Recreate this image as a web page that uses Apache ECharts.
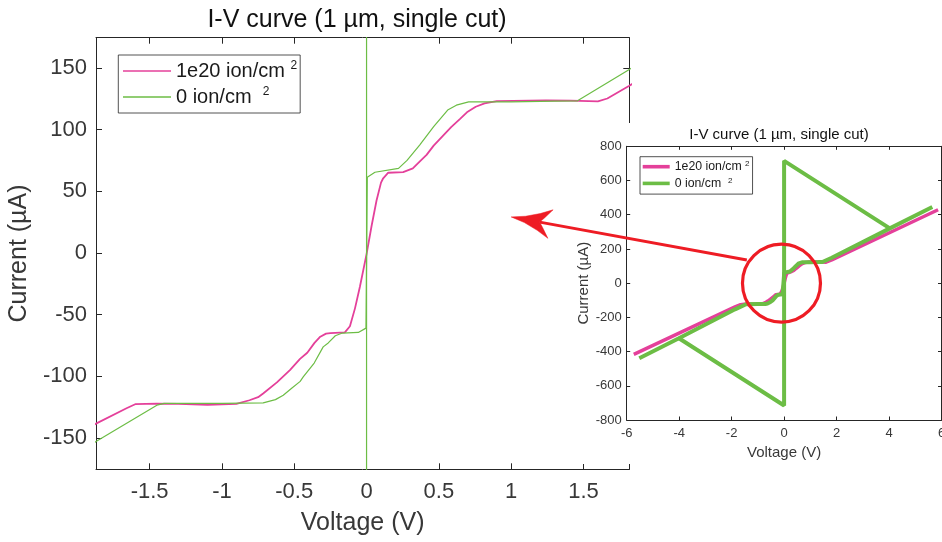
<!DOCTYPE html>
<html>
<head>
<meta charset="utf-8">
<script src="https://cdn.jsdelivr.net/npm/echarts@6/dist/echarts.min.js"></script>
<style>html,body{margin:0;padding:0;background:#fff}#c{width:942px;height:542px}</style>
</head>
<body>
<div id="c"></div>
<script>
// ---------- data ----------
const titleText = 'I-V curve (1 µm, single cut)';
const xName = 'Voltage (V)';
const yName = 'Current (µA)';
const seriesNames = ['1e20 ion/cm', '0 ion/cm'];
const legendSupGap = [' ', '  '];

const mainXTicks = [-1.5, -1, -0.5, 0, 0.5, 1, 1.5];
const mainYTicks = [-150, -100, -50, 0, 50, 100, 150];
const insetXTicks = [-6, -4, -2, 0, 2, 4, 6];
const insetYTicks = [-800, -600, -400, -200, 0, 200, 400, 600, 800];

const voltage1e20 = [-5.73, -1.871, -1.66, -1.6, -1.45, -1.3, -1.1, -0.9, -0.81, -0.75, -0.715, -0.62, -0.53, -0.46, -0.41, -0.36, -0.32, -0.28, -0.25, -0.15, -0.115, -0.08, -0.046, 0, 0.035, 0.069, 0.1, 0.115, 0.15, 0.253, 0.32, 0.367, 0.415, 0.464, 0.585, 0.645, 0.694, 0.755, 0.816, 0.9, 1.24, 1.41, 1.6, 1.665, 1.817, 5.87];
const current1e20 = [-416, -138.5, -126, -122.7, -122.2, -122.5, -123.3, -122.5, -119.5, -117, -114, -105, -95, -86, -81, -73, -68, -65.5, -65, -64.5, -59.5, -45, -27.5, -1, 22, 42.5, 57, 60.5, 65, 65.5, 68.5, 74, 79.5, 87, 102, 108.5, 114, 118.5, 121.2, 123, 123.6, 123.5, 122.8, 125.2, 135.5, 429];

const voltage0 = [-5.52, -4.01, -1.871, -1.45, -1.4, -1.0, -0.715, -0.63, -0.576, -0.52, -0.459, -0.438, -0.362, -0.3, -0.265, -0.216, -0.167, -0.057, -0.004, 0.005, 0.058, 0.221, 0.28, 0.367, 0.464, 0.561, 0.621, 0.706, 1.0, 1.3, 1.459, 1.817, 4.03, 5.65];
const current0 = [-439, -322, -153, -123.5, -122, -122, -121.6, -119, -115.4, -110, -104.2, -100.5, -89.3, -76.2, -73, -67.2, -65, -64.5, -61, 61.4, 65.4, 68.5, 75, 87.4, 102.3, 115.8, 119.8, 122.5, 122.5, 123, 123.3, 148.7, 320, 445];

const voltage0Retrace = [-4.01, 0, 0, 4.03];
const current0Retrace = [-322, -715, 715, 320];

// annotation anchors (in data units of the respective plot)
const circleCenterInset = [-0.1, 0];
const arrowTailInset = [-1.42, 135];
const arrowTipMain = [1.0, 29.2];

// ---------- style ----------
const FONT = '"Liberation Sans", Arial, Helvetica, sans-serif';
const AX = '#262626';
const PINK = '#e4409a';
const GREEN = '#6cbd45';
const RED = '#ee1c24';

const zip = (xs, ys) => xs.map((x, i) => [x, ys[i]]);

function ax(grid, pos, min, max, ticks, opts) {
  return Object.assign({
    type: 'value', gridIndex: grid, position: pos, min: min, max: max,
    axisLine: { show: true, onZero: false, lineStyle: { color: AX, width: 1 } },
    axisTick: { show: true, inside: true, length: opts.tick, customValues: ticks, lineStyle: { color: AX, width: 1 } },
    axisLabel: { show: opts.label, customValues: ticks, fontSize: opts.fs, color: '#383838', fontFamily: FONT, margin: opts.margin,
      showMinLabel: true, showMaxLabel: true, hideOverlap: false },
    splitLine: { show: false }, z: opts.z
  }, opts.extra || {});
}

const chart = echarts.init(document.getElementById('c'));

const option = {
  animation: false,
  backgroundColor: '#fff',
  title: [
    { text: titleText, left: 357, top: 8, padding: 0, textAlign: 'center',
      textStyle: { fontSize: 25, fontWeight: 'normal', color: '#111', fontFamily: FONT }, z: 6 },
    { text: titleText, left: 779, top: 127, padding: 0, textAlign: 'center',
      textStyle: { fontSize: 15, fontWeight: 'normal', color: '#111', fontFamily: FONT }, z: 60 }
  ],
  grid: [
    { left: 96, top: 37.7, width: 533.3, height: 431.6, outerBoundsMode: 'none', containLabel: false },
    { left: 626.7, top: 146.3, width: 314.8, height: 273.7, outerBoundsMode: 'none', containLabel: false }
  ],
  legend: [
    { data: seriesNames, orient: 'vertical', left: 118.3, top: 55, icon: 'rect',
      itemWidth: 48, itemHeight: 1.5, itemGap: 4, padding: [5, 3, 5, 4.7],
      borderColor: AX, borderWidth: 0.8, backgroundColor: '#fff', selectedMode: false,
      formatter: n => n + legendSupGap[seriesNames.indexOf(n)] + '{sup|2}',
      textStyle: { fontSize: 20, lineHeight: 22, color: '#1a1a1a', fontFamily: FONT,
        rich: { sup: { fontSize: 12, lineHeight: 16, verticalAlign: 'top', color: '#1a1a1a', fontFamily: FONT } } },
      z: 4 },
    { data: seriesNames, orient: 'vertical', left: 640, top: 156.7, icon: 'rect',
      itemWidth: 27, itemHeight: 3.6, itemGap: 2.7, padding: [3, 3, 3.7, 2.7],
      borderColor: AX, borderWidth: 0.8, backgroundColor: '#fff', selectedMode: false,
      formatter: n => n + legendSupGap[seriesNames.indexOf(n)] + '{sup|2}',
      textStyle: { fontSize: 12.3, lineHeight: 14, color: '#1a1a1a', fontFamily: FONT,
        rich: { sup: { fontSize: 8, lineHeight: 11, verticalAlign: 'top', color: '#1a1a1a', fontFamily: FONT } } },
      z: 62 }
  ],
  xAxis: [
    ax(0, 'bottom', -1.871, 1.817, mainXTicks, { tick: 6, label: true, fs: 22, margin: 12, z: 0,
      extra: { name: xName, nameLocation: 'middle', nameGap: 41,
        nameTextStyle: { fontSize: 25, color: '#383838', fontFamily: FONT } } }),
    ax(0, 'top', -1.871, 1.817, mainXTicks, { tick: 6, label: false, fs: 22, margin: 8, z: 0 }),
    ax(1, 'bottom', -6, 6, insetXTicks, { tick: 3.5, label: true, fs: 13, margin: 7, z: 60,
      extra: { name: xName, nameLocation: 'middle', nameGap: 25,
        nameTextStyle: { fontSize: 15, color: '#383838', fontFamily: FONT } } }),
    ax(1, 'top', -6, 6, insetXTicks, { tick: 3.5, label: false, fs: 13, margin: 7, z: 60 })
  ],
  yAxis: [
    ax(0, 'left', -175.5, 174.5, mainYTicks, { tick: 6, label: true, fs: 22, margin: 9, z: 0,
      extra: { name: yName, nameLocation: 'middle', nameGap: 63,
        nameTextStyle: { fontSize: 25, color: '#383838', fontFamily: FONT } } }),
    ax(0, 'right', -175.5, 174.5, mainYTicks, { tick: 6, label: false, fs: 22, margin: 8, z: 0 }),
    ax(1, 'left', -800, 800, insetYTicks, { tick: 3.5, label: true, fs: 13, margin: 5, z: 60,
      extra: { name: yName, nameLocation: 'middle', nameGap: 35,
        nameTextStyle: { fontSize: 15, color: '#383838', fontFamily: FONT } } }),
    ax(1, 'right', -800, 800, insetYTicks, { tick: 3.5, label: false, fs: 13, margin: 5, z: 60 })
  ],
  series: [
    { name: seriesNames[0], type: 'line', xAxisIndex: 0, yAxisIndex: 0, data: zip(voltage1e20, current1e20),
      symbol: 'none', clip: true, lineStyle: { color: PINK, width: 1.8 }, itemStyle: { color: PINK }, z: 2 },
    { name: seriesNames[1], type: 'line', xAxisIndex: 0, yAxisIndex: 0, data: zip(voltage0, current0),
      symbol: 'none', clip: true, lineStyle: { color: GREEN, width: 1.2 }, itemStyle: { color: GREEN }, z: 2 },
    { name: seriesNames[1], type: 'line', xAxisIndex: 0, yAxisIndex: 0, data: zip(voltage0Retrace, current0Retrace),
      symbol: 'none', clip: true, lineStyle: { color: GREEN, width: 1.2 }, itemStyle: { color: GREEN }, z: 2 },
    { name: seriesNames[0], type: 'line', xAxisIndex: 2, yAxisIndex: 2, data: zip(voltage1e20, current1e20),
      symbol: 'none', clip: true, lineStyle: { color: PINK, width: 3.5 }, itemStyle: { color: PINK }, z: 61 },
    { name: seriesNames[1], type: 'line', xAxisIndex: 2, yAxisIndex: 2, data: zip(voltage0, current0),
      symbol: 'none', clip: true, lineStyle: { color: GREEN, width: 4 }, itemStyle: { color: GREEN }, z: 61 },
    { name: seriesNames[1], type: 'line', xAxisIndex: 2, yAxisIndex: 2, data: zip(voltage0Retrace, current0Retrace),
      symbol: 'none', clip: true, lineStyle: { color: GREEN, width: 4 }, itemStyle: { color: GREEN }, z: 61 }
  ],
  graphic: [
    { type: 'rect', id: 'insetBg', shape: { x: 560, y: 123, width: 382, height: 341 },
      style: { fill: '#fff' }, z: 50, silent: true }
  ]
};
chart.setOption(option);

// annotation: circle + arrow positioned from data anchors
const c = chart.convertToPixel({ xAxisIndex: 2, yAxisIndex: 2 }, circleCenterInset);
const tail = chart.convertToPixel({ xAxisIndex: 2, yAxisIndex: 2 }, arrowTailInset);
const tip = chart.convertToPixel({ xAxisIndex: 0, yAxisIndex: 0 }, arrowTipMain);
const dx = tail[0] - tip[0], dy = tail[1] - tip[1];
const L = Math.hypot(dx, dy);
const ux = dx / L, uy = dy / L, nx = -uy, ny = ux;
const P = (a, p) => [tip[0] + ux * a + nx * p, tip[1] + uy * a + ny * p];
const head = [P(0, 0), P(14, 3.2), P(28, 8.5), P(40, 14.5), P(33, 5), P(29, 0), P(33, -5), P(40, -14.5), P(28, -8.5), P(14, -3.2)];
const notch = P(29, 0);

chart.setOption({
  graphic: [
    { type: 'rect', id: 'insetBg', shape: { x: 560, y: 123, width: 382, height: 341 },
      style: { fill: '#fff' }, z: 50, silent: true },
    { type: 'circle', id: 'ring', shape: { cx: c[0], cy: c[1], r: 39 },
      style: { fill: 'none', stroke: RED, lineWidth: 3.2 }, z: 100, silent: true },
    { type: 'line', id: 'arrowLine', shape: { x1: tail[0], y1: tail[1], x2: notch[0], y2: notch[1] },
      style: { stroke: RED, lineWidth: 3 }, z: 100, silent: true },
    { type: 'polygon', id: 'arrowHead', shape: { points: head },
      style: { fill: RED, stroke: RED, lineWidth: 0.5 }, z: 101, silent: true }
  ]
});
</script>
</body>
</html>
